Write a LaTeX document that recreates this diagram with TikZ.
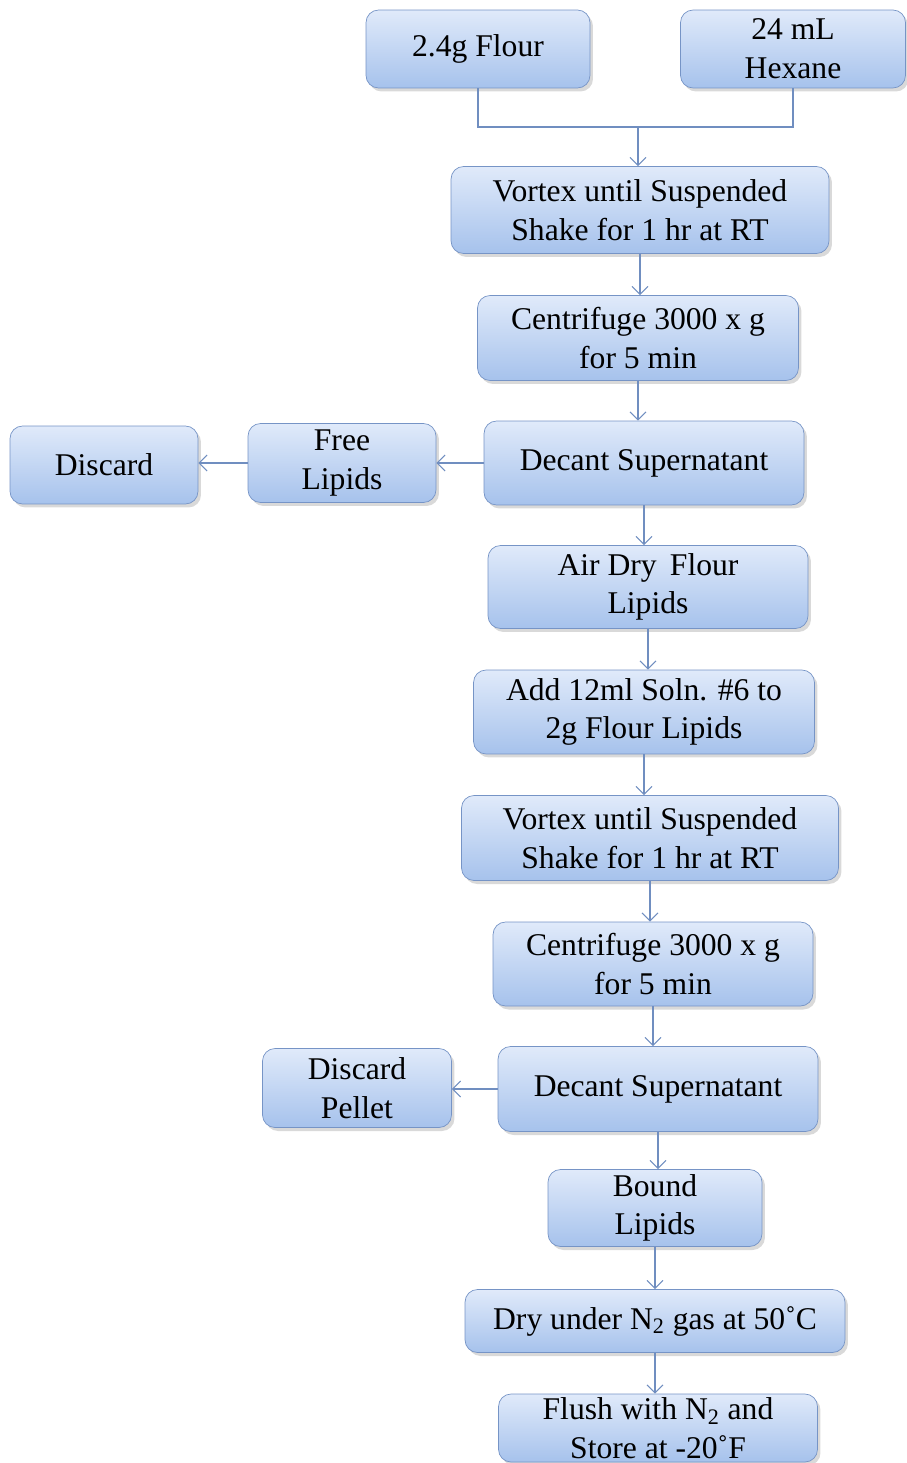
\documentclass[tikz,border=0pt]{standalone}
\usepackage{fontspec}
\setmainfont{Liberation Serif}
\usetikzlibrary{arrows.meta,shadows}

\definecolor{boxtop}{RGB}{224,234,250}
\definecolor{boxbot}{RGB}{166,194,236}
\definecolor{boxline}{RGB}{118,148,198}
\definecolor{linkcol}{RGB}{112,142,192}

\tikzset{
  stepbox/.style={draw=boxline, rounded corners=2.5mm, top color=boxtop,
    bottom color=boxbot, align=center, inner sep=1pt,
    font=\fontsize{18}{22}\selectfont,
    drop shadow={opacity=0.3, shadow xshift=0.6mm, shadow yshift=-0.7mm}},
  link/.style={draw=linkcol, line width=0.6pt},
  arr/.style={link, -{Straight Barb[length=1.6mm,width=3.2mm]}}
}

\begin{document}
\begin{tikzpicture}[x=0.02cm, y=-0.02cm]

    \useasboundingbox (0,0) rectangle (906,1463);

    % Start
    \node[stepbox, minimum width=4.48cm, minimum height=1.56cm] (flour) at (478,49) {2.4g Flour};
    \node[stepbox, minimum width=4.5cm, minimum height=1.56cm] (hexane) at (793,49) {24 mL\\Hexane};

    % First extraction
    \node[stepbox, minimum width=7.56cm, minimum height=1.74cm] (vortexA) at (640,210) {Vortex until Suspended\\Shake for 1 hr at RT};
    \node[stepbox, minimum width=6.42cm, minimum height=1.7cm] (centA) at (638,338) {Centrifuge 3000 x g\\for 5 min};
    \node[stepbox, minimum width=6.4cm, minimum height=1.68cm] (decantA) at (644,463) {Decant Supernatant};
    \node[stepbox, minimum width=3.76cm, minimum height=1.58cm] (free) at (342,463) {Free\\Lipids};
    \node[stepbox, minimum width=3.76cm, minimum height=1.56cm] (discard) at (104,465) {Discard};

    % Second extraction
    \node[stepbox, minimum width=6.4cm, minimum height=1.66cm] (airdry) at (648,587) {Air Dry\, Flour\\Lipids};
    \node[stepbox, minimum width=6.82cm, minimum height=1.68cm] (addsoln) at (644,712) {Add 12ml Soln. \#6 to\\2g Flour Lipids};
    \node[stepbox, minimum width=7.54cm, minimum height=1.7cm] (vortexB) at (650,838) {Vortex until Suspended\\Shake for 1 hr at RT};
    \node[stepbox, minimum width=6.4cm, minimum height=1.68cm] (centB) at (653,964) {Centrifuge 3000 x g\\for 5 min};
    \node[stepbox, minimum width=6.4cm, minimum height=1.7cm] (decantB) at (658,1089) {Decant Supernatant};
    \node[stepbox, minimum width=3.78cm, minimum height=1.58cm] (pellet) at (357,1088) {Discard\\Pellet};

    % Bound lipids
    \node[stepbox, minimum width=4.28cm, minimum height=1.54cm] (bound) at (655,1208) {Bound\\Lipids};
    \node[stepbox, minimum width=7.6cm, minimum height=1.26cm] (drygas) at (655,1321) {Dry under N\textsubscript{2} gas at 50˚C};
    \node[stepbox, minimum width=6.38cm, minimum height=1.36cm] (flush) at (658,1428) {Flush with N\textsubscript{2} and\\Store at -20˚F};

    % Merge
    \coordinate (join) at (638,127);
    \draw[link] (flour.south) |- (join) -| (hexane.south);
    \draw[arr] (join) -- (join |- vortexA.north);

    % Arrows
    \draw[arr] (vortexA.south) -- (vortexA.south |- centA.north);
    \draw[arr] (centA.south) -- (centA.south |- decantA.north);
    \draw[arr] (decantA.west) -- (free.east);
    \draw[arr] (free.west) -- (free.west -| discard.east);
    \draw[arr] (decantA.south) -- (decantA.south |- airdry.north);
    \draw[arr] (airdry.south) -- (airdry.south |- addsoln.north);
    \draw[arr] (addsoln.south) -- (addsoln.south |- vortexB.north);
    \draw[arr] (vortexB.south) -- (vortexB.south |- centB.north);
    \draw[arr] (centB.south) -- (centB.south |- decantB.north);
    \draw[arr] (decantB.west) -- (decantB.west -| pellet.east);
    \draw[arr] (decantB.south) -- (decantB.south |- bound.north);
    \draw[arr] (bound.south) -- (bound.south |- drygas.north);
    \draw[arr] (drygas.south) -- (drygas.south |- flush.north);

\end{tikzpicture}
\end{document}
